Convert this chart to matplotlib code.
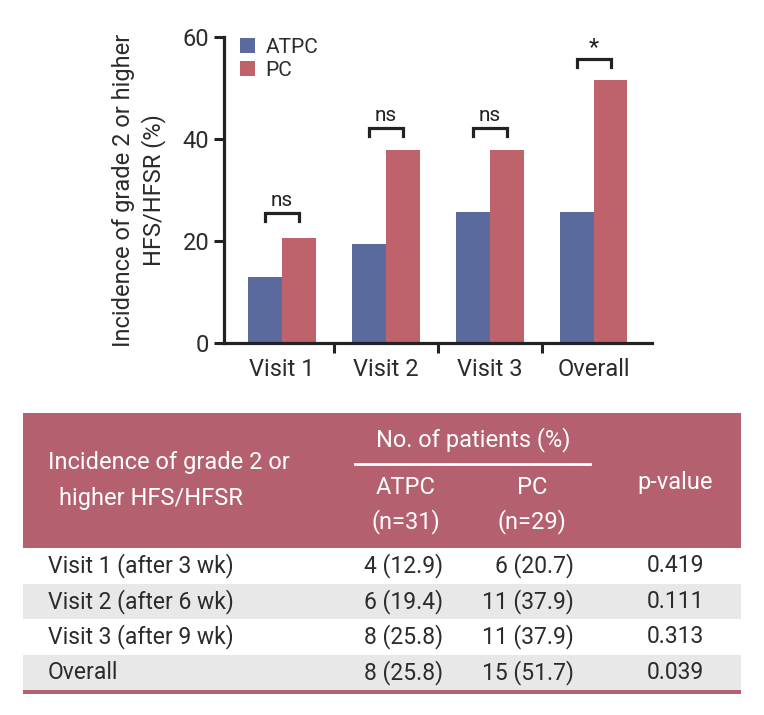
import numpy as np
import matplotlib.pyplot as plt
from matplotlib.patches import Rectangle

plt.rcParams['font.family'] = ['Roboto', 'DejaVu Sans']

# data
visits = ['Visit 1', 'Visit 2', 'Visit 3', 'Overall']
atpc = [12.9, 19.4, 25.8, 25.8]
pc = [20.7, 37.9, 37.9, 51.7]
sig_labels = ['ns', 'ns', 'ns', '*']
bracket_y = [25.5, 42.1, 42.1, 55.7]

row_names = ['Visit 1 (after 3 wk)', 'Visit 2 (after 6 wk)', 'Visit 3 (after 9 wk)', 'Overall']
atpc_txt = ['4 (12.9)', '6 (19.4)', '8 (25.8)', '8 (25.8)']
pc_txt = ['6 (20.7)', '11 (37.9)', '11 (37.9)', '15 (51.7)']
p_values = ['0.419', '0.111', '0.313', '0.039']

blue = '#5b6a9c'
red = '#be626b'
pink = '#b5606f'
txt = '#2b2b2b'

fig = plt.figure(figsize=(7.64, 7.15), dpi=100)

# ---- bar chart ----
ax = fig.add_axes([0.293, 0.520, 0.560, 0.428])
x = np.arange(len(visits))
w = 0.327
ax.bar(x - w/2, atpc, w, color=blue, label='ATPC')
ax.bar(x + w/2, pc, w, color=red, label='PC')

for i in range(len(visits)):
    yb = bracket_y[i]
    ax.plot([x[i] - w/2, x[i] - w/2, x[i] + w/2, x[i] + w/2],
            [yb - 1.5, yb, yb, yb - 1.5], color='#222222', lw=2.3,
            solid_joinstyle='miter', clip_on=False)
    if sig_labels[i] == '*':
        ax.text(x[i], yb + 0.1, '*', ha='center', va='bottom', fontsize=17, color='#222222')
    else:
        ax.text(x[i], yb + 0.7, sig_labels[i], ha='center', va='bottom', fontsize=15, color='#222222')

ax.set_xlim(-0.56, 3.56)
ax.set_ylim(0, 60)
ax.set_yticks([0, 20, 40, 60])
ax.set_xticks(x)
ax.set_xticklabels(visits)
ax.set_xticks([0.5, 1.5, 2.5], minor=True)
ax.tick_params(axis='x', which='major', length=0, pad=11, labelsize=17, colors=txt)
ax.tick_params(axis='x', which='minor', length=7, width=2.2, color='#222222')
ax.tick_params(axis='y', length=7, width=2.2, labelsize=17, colors=txt, color='#222222')
for s in ['top', 'right']:
    ax.spines[s].set_visible(False)
for s in ['left', 'bottom']:
    ax.spines[s].set_linewidth(2.3)
    ax.spines[s].set_color('#222222')
ax.set_ylabel('Incidence of grade 2 or higher\nHFS/HFSR (%)', fontsize=17, color=txt,
              labelpad=12, linespacing=1.3)

ax.legend(loc='upper left', bbox_to_anchor=(-0.005, 1.06), frameon=False, fontsize=15,
          handlelength=0.7, handleheight=0.7, handletextpad=0.5, labelspacing=0.2,
          labelcolor=txt)

# ---- table ----
tb = fig.add_axes([0, 0, 1, 1])
tb.set_xlim(0, 764)
tb.set_ylim(715, 0)
tb.axis('off')

left, right = 23, 741
fs = 16.5
tb.add_patch(Rectangle((left, 413), right - left, 135, color=pink, lw=0))
row_h = 35.5
row_top = 548
for i in range(len(row_names)):
    y0 = row_top + i * row_h
    if i % 2 == 1:
        tb.add_patch(Rectangle((left, y0), right - left, row_h, color='#e8e8e8', lw=0))
    yc = y0 + row_h / 2
    tb.text(48, yc, row_names[i], ha='left', va='center', fontsize=fs, color=txt)
    tb.text(443, yc, atpc_txt[i], ha='right', va='center', fontsize=fs, color=txt)
    tb.text(574, yc, pc_txt[i], ha='right', va='center', fontsize=fs, color=txt)
    tb.text(675, yc, p_values[i], ha='center', va='center', fontsize=fs, color=txt)
tb.add_patch(Rectangle((left, row_top + 4 * row_h), right - left, 4, color=pink, lw=0))

tb.text(48, 463, 'Incidence of grade 2 or', ha='left', va='center', fontsize=17, color='white')
tb.text(59, 498, 'higher HFS/HFSR', ha='left', va='center', fontsize=17, color='white')
tb.text(473, 440, 'No. of patients (%)', ha='center', va='center', fontsize=17, color='white')
tb.plot([355, 590], [464, 464], color='white', lw=2)
tb.text(406, 487, 'ATPC', ha='center', va='center', fontsize=17, color='white')
tb.text(406, 522, '(n=31)', ha='center', va='center', fontsize=17, color='white')
tb.text(532, 487, 'PC', ha='center', va='center', fontsize=17, color='white')
tb.text(532, 522, '(n=29)', ha='center', va='center', fontsize=17, color='white')
tb.text(675, 482, 'p-value', ha='center', va='center', fontsize=17, color='white')

fig.savefig('out.png', dpi=100)
